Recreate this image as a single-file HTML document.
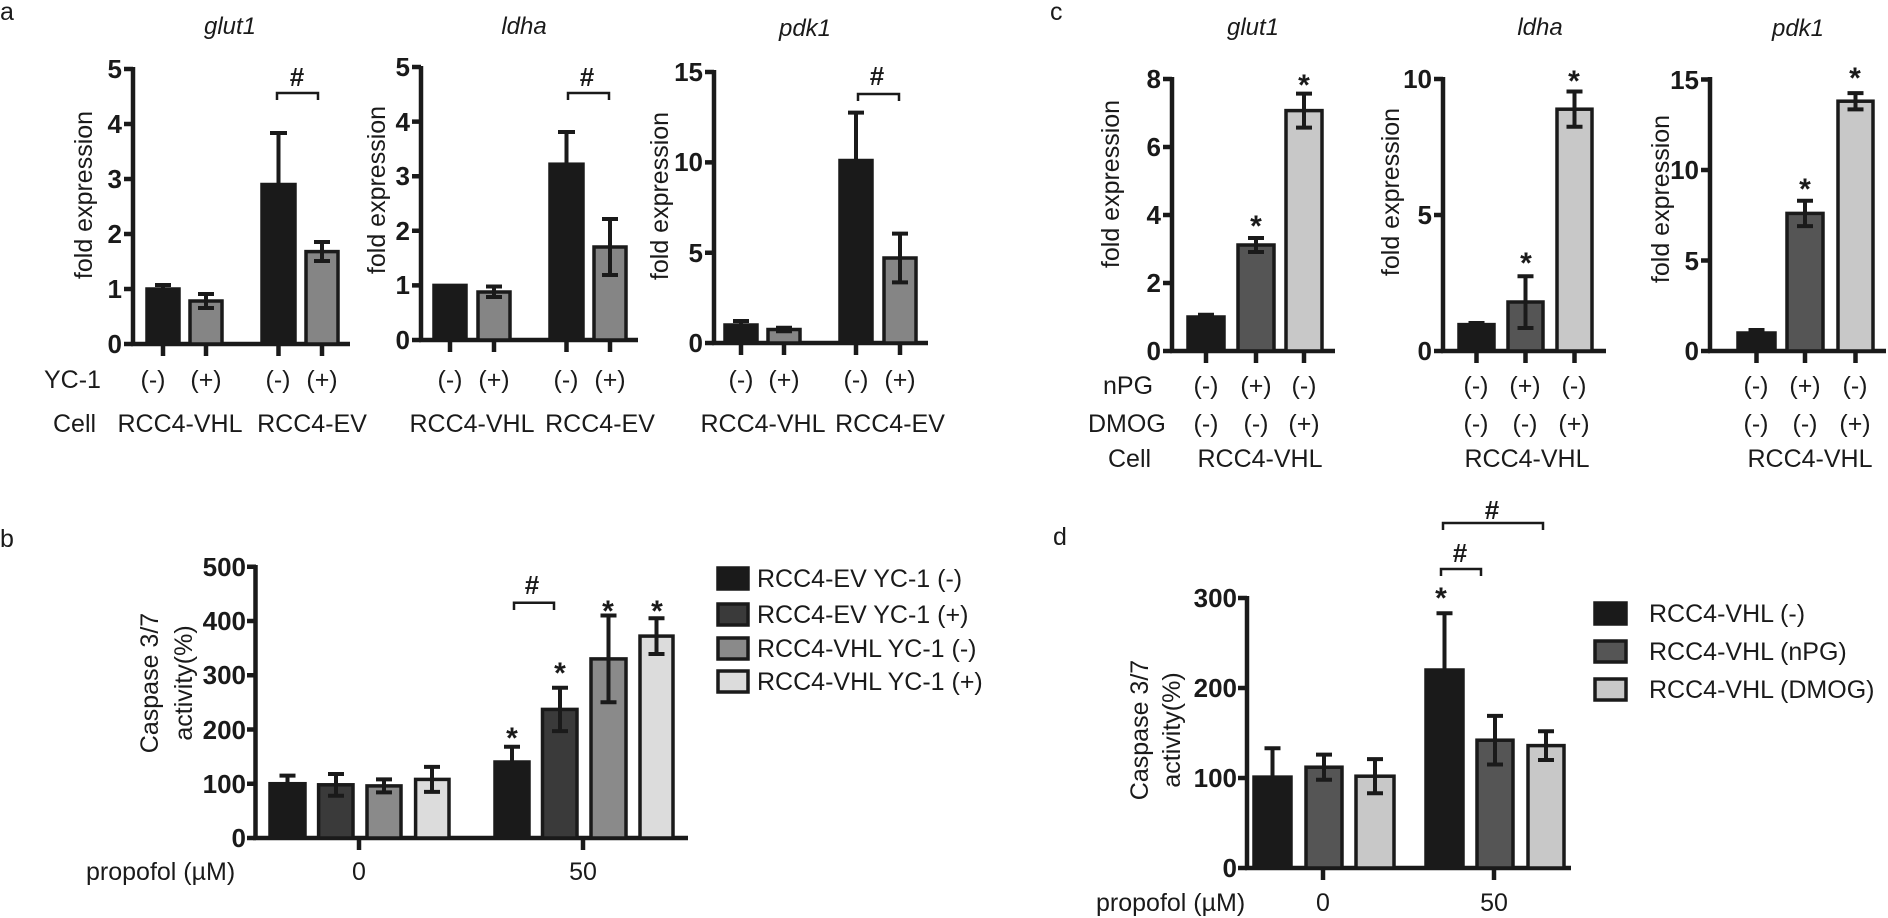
<!DOCTYPE html>
<html><head><meta charset="utf-8"><style>
html,body{margin:0;padding:0;background:#fff;}
svg{display:block;font-family:"Liberation Sans",Arial,sans-serif;}
.t{font-size:25px;fill:#1a1a1a;}
.tk{font-size:26px;font-weight:bold;fill:#1a1a1a;text-anchor:end;}
.ti{font-size:24px;font-style:italic;fill:#1a1a1a;text-anchor:middle;}
.m{text-anchor:middle;}
.st{font-size:30px;font-weight:bold;fill:#1a1a1a;text-anchor:middle;}
.ax{stroke:#1a1a1a;stroke-width:4.5;fill:none;}
.b{stroke:#1a1a1a;stroke-width:3.5;}
.e{stroke:#1a1a1a;stroke-width:4;fill:none;}
.br{stroke:#1a1a1a;stroke-width:2.5;fill:none;}
</style></head><body>
<svg width="1888" height="918" viewBox="0 0 1888 918" xmlns="http://www.w3.org/2000/svg">
<!-- panel letters -->
<text x="0" y="20" class="t">a</text>
<text x="1050" y="20" class="t">c</text>
<text x="0" y="547" class="t">b</text>
<text x="1053" y="545" class="t">d</text>

<!-- ===== a glut1 ===== -->
<text x="230" y="34" class="ti">glut1</text>
<text transform="translate(92,195) rotate(-90)" class="t m">fold expression</text>
<path class="ax" d="M133,67 V346 M131,344 H350"/>
<path class="ax" d="M124,344H133M124,289H133M124,234H133M124,179H133M124,124H133M124,69H133"/>
<text x="122" y="353" class="tk">0</text><text x="122" y="298" class="tk">1</text><text x="122" y="243" class="tk">2</text><text x="122" y="188" class="tk">3</text><text x="122" y="133" class="tk">4</text><text x="122" y="78" class="tk">5</text>
<rect x="147" y="289" width="32" height="55" fill="#1a1a1a" class="b"/>
<rect x="190" y="301" width="32" height="43" fill="#858585" class="b"/>
<rect x="262" y="184.5" width="33" height="159.5" fill="#1a1a1a" class="b"/>
<rect x="306" y="251.6" width="32" height="92.4" fill="#858585" class="b"/>
<path class="e" d="M163,285V293M155,285H171M155,293H171 M206,294V308M198,294H214M198,308H214 M278.5,133V236M270,133H287M270,236H287 M322,242V261M314,242H330M314,261H330"/>
<path class="ax" d="M163,344V356M206,344V356M278.5,344V356M322,344V356"/>
<path class="br" d="M277,100V93H318V100"/>
<text x="297" y="86" class="st" style="font-size:26px">#</text>

<!-- ===== a ldha ===== -->
<text x="524" y="34" class="ti">ldha</text>
<text transform="translate(385,190) rotate(-90)" class="t m">fold expression</text>
<path class="ax" d="M421,66 V342 M419,340 H638"/>
<path class="ax" d="M412,340H421M412,285.4H421M412,230.8H421M412,176.2H421M412,121.6H421M412,67H421"/>
<text x="410" y="349" class="tk">0</text><text x="410" y="294" class="tk">1</text><text x="410" y="240" class="tk">2</text><text x="410" y="185" class="tk">3</text><text x="410" y="131" class="tk">4</text><text x="410" y="76" class="tk">5</text>
<rect x="434" y="285.4" width="32" height="54.6" fill="#1a1a1a" class="b"/>
<rect x="478" y="292" width="32" height="48" fill="#858585" class="b"/>
<rect x="550" y="164.2" width="33" height="175.8" fill="#1a1a1a" class="b"/>
<rect x="594" y="247" width="32" height="93" fill="#858585" class="b"/>
<path class="e" d="M494,286.5V297M486,286.5H502M486,297H502 M566.5,132V197M558,132H575M558,197H575 M610,219V275M602,219H618M602,275H618"/>
<path class="ax" d="M450,340V352M494,340V352M566.5,340V352M610,340V352"/>
<path class="br" d="M568,100V93H609V100"/>
<text x="587" y="86" class="st" style="font-size:26px">#</text>

<!-- ===== a pdk1 ===== -->
<text x="805" y="36" class="ti">pdk1</text>
<text transform="translate(668,196) rotate(-90)" class="t m">fold expression</text>
<path class="ax" d="M714,70 V345 M712,343 H928"/>
<path class="ax" d="M705,343H714M705,252.7H714M705,162.4H714M705,72H714"/>
<text x="703" y="352" class="tk">0</text><text x="703" y="262" class="tk">5</text><text x="703" y="171" class="tk">10</text><text x="703" y="81" class="tk">15</text>
<rect x="725" y="325" width="32" height="18" fill="#1a1a1a" class="b"/>
<rect x="768" y="329.5" width="32" height="13.5" fill="#858585" class="b"/>
<rect x="840" y="160.5" width="32" height="182.5" fill="#1a1a1a" class="b"/>
<rect x="884" y="258" width="32" height="85" fill="#858585" class="b"/>
<path class="e" d="M741,321V328M733,321H749 M784,327.7V331.3M776,327.7H792M776,331.3H792 M856,112.6V208.4M848,112.6H864M848,208.4H864 M900,233.6V282.4M892,233.6H908M892,282.4H908"/>
<path class="ax" d="M741,343V355M784,343V355M856,343V355M900,343V355"/>
<path class="br" d="M858,101V94H899V101"/>
<text x="877" y="85" class="st" style="font-size:26px">#</text>

<!-- a row labels -->
<g class="t">
<text x="44" y="388">YC-1</text>
<text x="153" y="388" class="m">(-)</text><text x="206" y="388" class="m">(+)</text><text x="278" y="388" class="m">(-)</text><text x="322" y="388" class="m">(+)</text>
<text x="450" y="388" class="m">(-)</text><text x="494" y="388" class="m">(+)</text><text x="566" y="388" class="m">(-)</text><text x="610" y="388" class="m">(+)</text>
<text x="741" y="388" class="m">(-)</text><text x="784" y="388" class="m">(+)</text><text x="856" y="388" class="m">(-)</text><text x="900" y="388" class="m">(+)</text>
<text x="53" y="432">Cell</text>
<text x="180" y="432" class="m">RCC4-VHL</text><text x="312" y="432" class="m">RCC4-EV</text>
<text x="472" y="432" class="m">RCC4-VHL</text><text x="600" y="432" class="m">RCC4-EV</text>
<text x="763" y="432" class="m">RCC4-VHL</text><text x="890" y="432" class="m">RCC4-EV</text>
</g>

<!-- ===== c glut1 ===== -->
<text x="1253" y="35" class="ti">glut1</text>
<text transform="translate(1119,184) rotate(-90)" class="t m">fold expression</text>
<path class="ax" d="M1172,77 V353 M1170,351 H1335"/>
<path class="ax" d="M1163,351H1172M1163,283H1172M1163,215H1172M1163,147H1172M1163,79H1172"/>
<text x="1161" y="360" class="tk">0</text><text x="1161" y="292" class="tk">2</text><text x="1161" y="224" class="tk">4</text><text x="1161" y="156" class="tk">6</text><text x="1161" y="88" class="tk">8</text>
<rect x="1188" y="317" width="36" height="34" fill="#1a1a1a" class="b"/>
<rect x="1238" y="245" width="36" height="106" fill="#555" class="b"/>
<rect x="1286" y="110.6" width="36" height="240.4" fill="#c8c8c8" class="b"/>
<path class="e" d="M1206,314.7V319.4M1198,314.7H1214 M1256,238V252M1248,238H1264M1248,252H1264 M1304,93.6V127.6M1296,93.6H1312M1296,127.6H1312"/>
<path class="ax" d="M1206,351V363M1256,351V363M1304,351V363"/>
<text x="1256" y="236" class="st">*</text><text x="1304" y="95" class="st">*</text>

<!-- ===== c ldha ===== -->
<text x="1540" y="35" class="ti">ldha</text>
<text transform="translate(1399,192) rotate(-90)" class="t m">fold expression</text>
<path class="ax" d="M1443,77 V353 M1441,351 H1606"/>
<path class="ax" d="M1434,351H1443M1434,215H1443M1434,79H1443"/>
<text x="1432" y="360" class="tk">0</text><text x="1432" y="224" class="tk">5</text><text x="1432" y="88" class="tk">10</text>
<rect x="1459" y="324.6" width="35" height="26.4" fill="#1a1a1a" class="b"/>
<rect x="1508" y="302" width="35" height="49" fill="#555" class="b"/>
<rect x="1557" y="109.2" width="35" height="241.8" fill="#c8c8c8" class="b"/>
<path class="e" d="M1476.5,323V326M1468.5,323H1484.5 M1525.5,276.3V328M1517.5,276.3H1533.5M1517.5,328H1533.5 M1574.5,91.5V126.8M1566.5,91.5H1582.5M1566.5,126.8H1582.5"/>
<path class="ax" d="M1476.5,351V363M1525.5,351V363M1574.5,351V363"/>
<text x="1526" y="273" class="st">*</text><text x="1574" y="91" class="st">*</text>

<!-- ===== c pdk1 ===== -->
<text x="1798" y="36" class="ti">pdk1</text>
<text transform="translate(1669,199) rotate(-90)" class="t m">fold expression</text>
<path class="ax" d="M1710,77 V353 M1708,351 H1886"/>
<path class="ax" d="M1701,351H1710M1701,260.5H1710M1701,170H1710M1701,79.5H1710"/>
<text x="1699" y="360" class="tk">0</text><text x="1699" y="270" class="tk">5</text><text x="1699" y="179" class="tk">10</text><text x="1699" y="89" class="tk">15</text>
<rect x="1738" y="333" width="37" height="18" fill="#1a1a1a" class="b"/>
<rect x="1787" y="213.4" width="36" height="137.6" fill="#555" class="b"/>
<rect x="1838" y="101.2" width="35" height="249.8" fill="#c8c8c8" class="b"/>
<path class="e" d="M1756.5,330V336M1748.5,330H1764.5 M1805,200.7V226.1M1797,200.7H1813M1797,226.1H1813 M1855.5,93.1V109.4M1847.5,93.1H1863.5M1847.5,109.4H1863.5"/>
<path class="ax" d="M1756.5,351V363M1805,351V363M1855.5,351V363"/>
<text x="1805" y="199" class="st">*</text><text x="1855" y="88" class="st">*</text>

<!-- c row labels -->
<g class="t">
<text x="1103" y="394">nPG</text>
<text x="1088" y="432">DMOG</text>
<text x="1108" y="467">Cell</text>
<text x="1206" y="394" class="m">(-)</text><text x="1256" y="394" class="m">(+)</text><text x="1304" y="394" class="m">(-)</text>
<text x="1206" y="432" class="m">(-)</text><text x="1256" y="432" class="m">(-)</text><text x="1304" y="432" class="m">(+)</text>
<text x="1476" y="394" class="m">(-)</text><text x="1525" y="394" class="m">(+)</text><text x="1574" y="394" class="m">(-)</text>
<text x="1476" y="432" class="m">(-)</text><text x="1525" y="432" class="m">(-)</text><text x="1574" y="432" class="m">(+)</text>
<text x="1756" y="394" class="m">(-)</text><text x="1805" y="394" class="m">(+)</text><text x="1855" y="394" class="m">(-)</text>
<text x="1756" y="432" class="m">(-)</text><text x="1805" y="432" class="m">(-)</text><text x="1855" y="432" class="m">(+)</text>
<text x="1260" y="467" class="m">RCC4-VHL</text>
<text x="1527" y="467" class="m">RCC4-VHL</text>
<text x="1810" y="467" class="m">RCC4-VHL</text>
</g>

<!-- ===== b ===== -->
<text transform="translate(158,683) rotate(-90)" class="t m">Caspase 3/7</text>
<text transform="translate(192,683) rotate(-90)" class="t m">activity(%)</text>
<path class="ax" d="M255.5,565 V840 M253,838 H688"/>
<path class="ax" d="M247,838H256M247,783.7H256M247,729.5H256M247,675.2H256M247,621H256M247,566.7H256"/>
<text x="246" y="847" class="tk">0</text><text x="246" y="793" class="tk">100</text><text x="246" y="739" class="tk">200</text><text x="246" y="684" class="tk">300</text><text x="246" y="630" class="tk">400</text><text x="246" y="576" class="tk">500</text>
<rect x="270" y="783.7" width="35" height="54.3" fill="#1a1a1a" class="b"/>
<rect x="318.6" y="784.8" width="34.4" height="53.2" fill="#3a3a3a" class="b"/>
<rect x="367" y="785.9" width="34" height="52.1" fill="#8a8a8a" class="b"/>
<rect x="415.6" y="779.4" width="33.4" height="58.6" fill="#dcdcdc" class="b"/>
<rect x="495" y="762" width="34" height="76" fill="#1a1a1a" class="b"/>
<rect x="542.5" y="709.4" width="34.5" height="128.6" fill="#3a3a3a" class="b"/>
<rect x="591" y="658.9" width="35" height="179.1" fill="#8a8a8a" class="b"/>
<rect x="640" y="636.1" width="33" height="201.9" fill="#dcdcdc" class="b"/>
<path class="e" d="M287.5,775.6V791.9M279.5,775.6H295.5M279.5,791.9H295.5 M336,774V795.7M328,774H344M328,795.7H344 M384,779.4V792.4M376,779.4H392M376,792.4H392 M432,766.9V791.9M424,766.9H440M424,791.9H440 M512,746.8V777.2M504,746.8H520M504,777.2H520 M560,687.7V731.1M552,687.7H568M552,731.1H568 M608.5,615.5V702.3M600.5,615.5H616.5M600.5,702.3H616.5 M656.5,618.2V654M648.5,618.2H664.5M648.5,654H664.5"/>
<path class="ax" d="M359,838V850M583,838V850"/>
<text x="512" y="748" class="st">*</text><text x="560" y="683" class="st">*</text><text x="608" y="621" class="st">*</text><text x="657" y="621" class="st">*</text>
<path class="br" d="M514,610V602.7H554V610"/>
<text x="532" y="594" class="st" style="font-size:26px">#</text>
<g class="t">
<text x="86" y="880">propofol (µM)</text>
<text x="359" y="880" class="m">0</text><text x="583" y="880" class="m">50</text>
</g>
<rect x="718" y="568" width="30" height="21" fill="#1a1a1a" class="b"/>
<rect x="718" y="604" width="30" height="21" fill="#3a3a3a" class="b"/>
<rect x="718" y="638" width="30" height="21" fill="#8a8a8a" class="b"/>
<rect x="718" y="671" width="30" height="21" fill="#dcdcdc" class="b"/>
<g class="t">
<text x="757" y="587">RCC4-EV YC-1 (-)</text>
<text x="757" y="623">RCC4-EV YC-1 (+)</text>
<text x="757" y="657">RCC4-VHL YC-1 (-)</text>
<text x="757" y="690">RCC4-VHL YC-1 (+)</text>
</g>

<!-- ===== d ===== -->
<text transform="translate(1148,730) rotate(-90)" class="t m">Caspase 3/7</text>
<text transform="translate(1180,730) rotate(-90)" class="t m">activity(%)</text>
<path class="ax" d="M1247,596 V870 M1245,868 H1571"/>
<path class="ax" d="M1238,868H1247M1238,778H1247M1238,688H1247M1238,598H1247"/>
<text x="1237" y="877" class="tk">0</text><text x="1237" y="787" class="tk">100</text><text x="1237" y="697" class="tk">200</text><text x="1237" y="607" class="tk">300</text>
<rect x="1254" y="777.1" width="37" height="90.9" fill="#1a1a1a" class="b"/>
<rect x="1306" y="767.2" width="36" height="100.8" fill="#555" class="b"/>
<rect x="1356" y="776.2" width="38" height="91.8" fill="#c8c8c8" class="b"/>
<rect x="1426" y="670" width="37" height="198" fill="#1a1a1a" class="b"/>
<rect x="1477" y="740.2" width="36" height="127.8" fill="#555" class="b"/>
<rect x="1528" y="745.6" width="36" height="122.4" fill="#c8c8c8" class="b"/>
<path class="e" d="M1272.5,748.3V805.9M1264.5,748.3H1280.5 M1324,754.6V779.8M1316,754.6H1332M1316,779.8H1332 M1375,759.1V793.3M1367,759.1H1383M1367,793.3H1383 M1444.5,613.3V726.7M1436.5,613.3H1452.5 M1495,715.9V764.5M1487,715.9H1503M1487,764.5H1503 M1546,731.2V760M1538,731.2H1554M1538,760H1554"/>
<path class="ax" d="M1323,868V880M1494,868V880"/>
<text x="1441" y="608" class="st">*</text>
<path class="br" d="M1441,576V569H1481V576"/>
<text x="1460" y="562" class="st" style="font-size:26px">#</text>
<path class="br" d="M1443,530V523H1543V530"/>
<text x="1492" y="519" class="st" style="font-size:26px">#</text>
<g class="t">
<text x="1096" y="911">propofol (µM)</text>
<text x="1323" y="911" class="m">0</text><text x="1494" y="911" class="m">50</text>
</g>
<rect x="1595" y="603" width="31" height="21" fill="#1a1a1a" class="b"/>
<rect x="1595" y="641" width="31" height="21" fill="#555" class="b"/>
<rect x="1595" y="679" width="31" height="21" fill="#c8c8c8" class="b"/>
<g class="t">
<text x="1649" y="622">RCC4-VHL (-)</text>
<text x="1649" y="660">RCC4-VHL (nPG)</text>
<text x="1649" y="698">RCC4-VHL (DMOG)</text>
</g>
</svg>
</body></html>
